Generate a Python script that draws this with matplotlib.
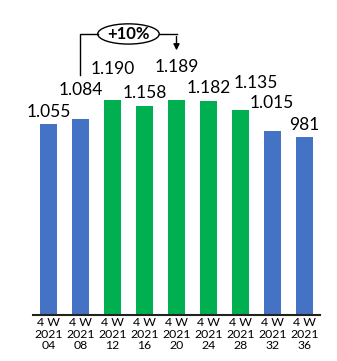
import matplotlib.pyplot as plt
from matplotlib.patches import Ellipse

periods = ["04", "08", "12", "16", "20", "24", "28", "32", "36"]
values = [1055, 1084, 1190, 1158, 1189, 1182, 1135, 1015, 981]
labels = ["1.055", "1.084", "1.190", "1.158", "1.189", "1.182", "1.135", "1.015", "981"]
colors = ["#4472C4", "#4472C4", "#00B050", "#00B050", "#00B050",
          "#00B050", "#00B050", "#4472C4", "#4472C4"]

# label placement (x shift in bars, y in data units) - staggered like the original
lab_dx = [0, 0, 0, 0, 0, 0, 0.47, -0.03, 0]
lab_y = [1122, 1244, 1360, 1228, 1371, 1254, 1283, 1172, 1050]

plt.rcParams['font.family'] = ['Lato', 'DejaVu Sans']

fig = plt.figure(figsize=(3.37, 3.61), dpi=100)
ax = fig.add_axes([33 / 337, 46.3 / 361, 287 / 337, 314.7 / 361])

x = list(range(len(values)))
ax.bar(x, values, width=0.54, color=colors)

for i in x:
    ax.text(i + lab_dx[i], lab_y[i], labels[i], ha="center", va="center", fontsize=12.5)

ax.set_xlim(-0.48, 8.48)
ax.set_ylim(0, 1742)
ax.set_xticks(x)
ax.set_xticklabels(["4 W\n2021\n" + p for p in periods], fontsize=8.8, linespacing=1.05)
ax.tick_params(axis="x", length=0, pad=2)
ax.set_yticks([])
for s in ["top", "left", "right"]:
    ax.spines[s].set_visible(False)
ax.spines["bottom"].set_color("#222222")
ax.spines["bottom"].set_linewidth(1.5)

# +10% bracket
ax.plot([1, 1, 1.55], [1327, 1554, 1554], color="black", lw=1, clip_on=False)
ax.plot([3.45, 4], [1554, 1554], color="black", lw=1, clip_on=False)
ax.annotate("", xy=(4, 1448), xytext=(4, 1555),
            arrowprops=dict(arrowstyle="-|>", color="black", lw=1, mutation_scale=9))
ax.add_patch(Ellipse((2.5, 1554), 1.92, 112, facecolor="white", edgecolor="black", lw=1,
                     clip_on=False))
ax.text(2.5, 1556, "+10%", ha="center", va="center", fontsize=12, fontweight="bold")

fig.savefig("out.png", dpi=100)
